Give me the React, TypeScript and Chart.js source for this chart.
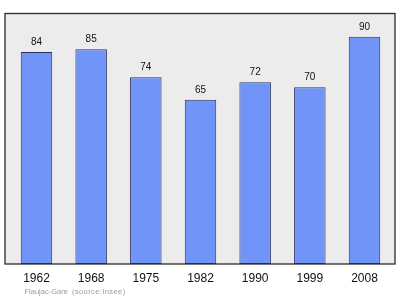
import React, { useEffect, useRef } from "react";
import { Chart, registerables } from "chart.js";

Chart.register(...registerables);

const years = ["1962", "1968", "1975", "1982", "1990", "1999", "2008"];
const population = [84, 85, 74, 65, 72, 70, 90];
const commune = "Flaujac-Gare";
const source = "(source:Insee)";

const FONT = "'Liberation Sans', Arial, sans-serif";

// Grey panel behind the bars, dark frame on top, plus value / year / footer text.
const framePlugin = {
  id: "frame",
  beforeDatasetsDraw(chart: any) {
    const { ctx, chartArea: a } = chart;
    ctx.save();
    ctx.fillStyle = "#ececec";
    ctx.fillRect(a.left, a.top, a.right - a.left, a.bottom - a.top);
    ctx.restore();
  },
  afterDatasetsDraw(chart: any) {
    const { ctx, chartArea: a, scales } = chart;
    const xs = scales.x;
    const ys = scales.y;
    ctx.save();
    ctx.strokeStyle = "#2b2b2b";
    ctx.lineWidth = 1.3;
    ctx.strokeRect(a.left, a.top, a.right - a.left, a.bottom - a.top);

    ctx.textAlign = "center";
    ctx.textBaseline = "alphabetic";
    ctx.fillStyle = "#111";
    ctx.font = `10px ${FONT}`;
    population.forEach((v, i) => {
      const x = xs.getPixelForValue(i);
      const y = ys.getPixelForValue(v);
      ctx.fillText(String(v), x, y - 7);
    });

    ctx.font = `12px ${FONT}`;
    years.forEach((label, i) => {
      ctx.fillText(label, xs.getPixelForValue(i), a.bottom + 18);
    });

    ctx.textAlign = "left";
    ctx.fillStyle = "#9a9a9a";
    ctx.font = `7.5px ${FONT}`;
    ctx.fillText(commune, a.left + 19.5, a.bottom + 29.5);
    (ctx as any).letterSpacing = "0.4px";
    ctx.fillText(source, a.left + 67, a.bottom + 29.5);
    ctx.restore();
  },
};

export default function App() {
  const ref = useRef<HTMLCanvasElement>(null);

  useEffect(() => {
    document.body.style.margin = "0";
    const canvas = ref.current;
    if (!canvas) return;
    const chart = new Chart(canvas, {
      type: "bar",
      data: {
        datasets: [
          {
            data: population.map((v, i) => ({ x: i, y: v })),
            backgroundColor: "#7094f8",
            borderColor: "#283060",
            borderWidth: 1,
            borderSkipped: false,
            barPercentage: 0.576,
            categoryPercentage: 1,
          },
        ],
      },
      options: {
        responsive: false,
        animation: false,
        devicePixelRatio: 1,
        layout: { padding: { left: 5, right: 5, top: 13.5, bottom: 35 } },
        plugins: {
          legend: { display: false },
          tooltip: { enabled: false },
        },
        scales: {
          x: { type: "linear", display: false, offset: false, min: -0.576, max: 6.558 },
          y: { display: false, min: 0, max: 99.2 },
        },
      },
      plugins: [framePlugin],
    });
    return () => chart.destroy();
  }, []);

  return (
    <div style={{ width: 400, height: 299, background: "#fff" }}>
      <canvas ref={ref} width={400} height={299} style={{ display: "block" }} />
    </div>
  );
}
